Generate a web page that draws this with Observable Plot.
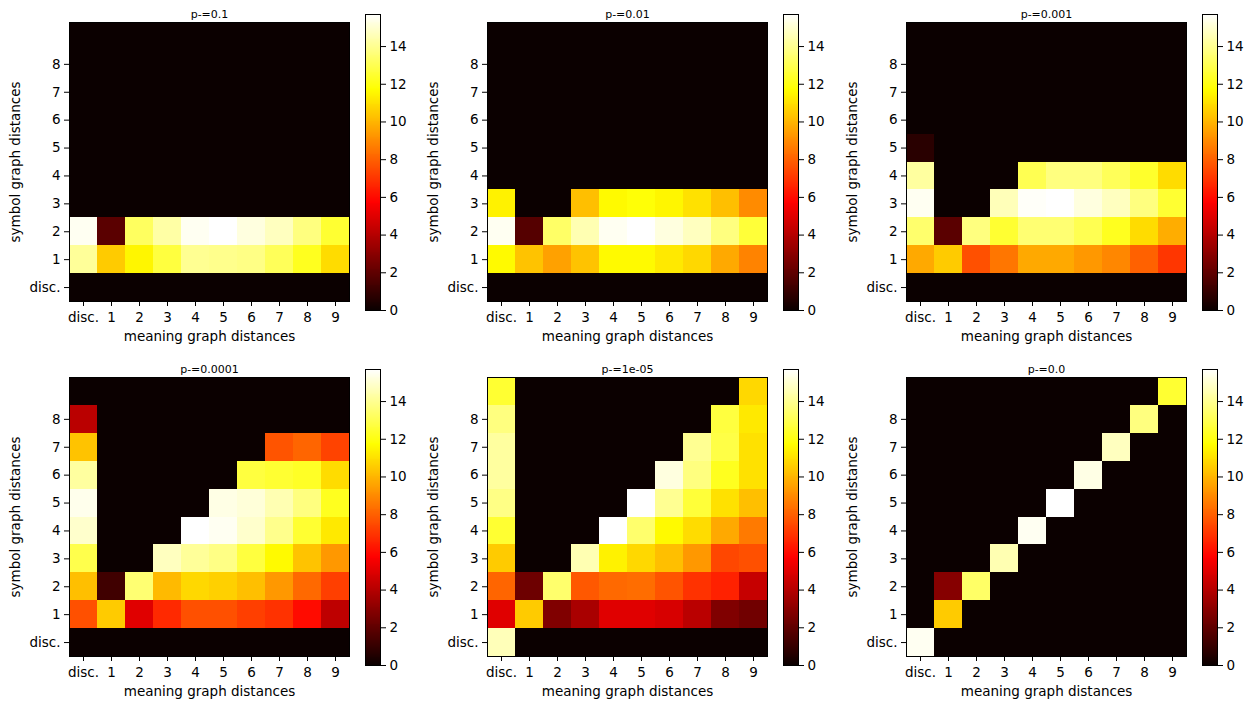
<!DOCTYPE html>
<html>
<head>
<meta charset="utf-8">
<script src="https://cdn.jsdelivr.net/npm/d3@7"></script>
<script src="https://cdn.jsdelivr.net/npm/@observablehq/plot@0.6"></script>
<style>
  html, body { margin: 0; padding: 0; background: #fff; }
  #fig { position: relative; width: 1252px; height: 709px; overflow: hidden; font-family: "DejaVu Sans", sans-serif; }
  #fig svg { position: absolute; overflow: visible; }
</style>
</head>
<body>
<div id="fig"></div>
<script>
// ---- data ----
const xLabels = ["disc.", "1", "2", "3", "4", "5", "6", "7", "8", "9"];
const yLabels = ["disc.", "1", "2", "3", "4", "5", "6", "7", "8", "9"]; // bottom to top
const yTickLabels = ["disc.", "1", "2", "3", "4", "5", "6", "7", "8"];
const titles = ["p-=0.1", "p-=0.01", "p-=0.001", "p-=0.0001", "p-=1e-05", "p-=0.0"];
const colorbarTicks = [0, 2, 4, 6, 8, 10, 12, 14];
const vmax = 15.7;
const xTitle = "meaning graph distances";
const yTitle = "symbol graph distances";

// rows: symbol distance disc., 1 .. 9 (bottom to top); columns: meaning distance disc., 1 .. 9
const p1 = [
  [0, 0, 0, 0, 0, 0, 0, 0, 0, 0],
  [14.1, 10.5, 11.5, 12.7, 14.0, 13.9, 13.8, 13.1, 12.2, 10.9],
  [15.5, 1.85, 13.2, 14.3, 15.5, 15.7, 15.2, 14.7, 13.7, 12.5],
  [0, 0, 0, 0, 0, 0, 0, 0, 0, 0],
  [0, 0, 0, 0, 0, 0, 0, 0, 0, 0],
  [0, 0, 0, 0, 0, 0, 0, 0, 0, 0],
  [0, 0, 0, 0, 0, 0, 0, 0, 0, 0],
  [0, 0, 0, 0, 0, 0, 0, 0, 0, 0],
  [0, 0, 0, 0, 0, 0, 0, 0, 0, 0],
  [0, 0, 0, 0, 0, 0, 0, 0, 0, 0]
];
const p2 = [
  [0, 0, 0, 0, 0, 0, 0, 0, 0, 0],
  [11.6, 10.3, 9.5, 10.3, 11.6, 11.6, 11.2, 10.8, 9.7, 8.8],
  [15.5, 1.75, 13.3, 14.5, 15.5, 15.7, 15.2, 14.7, 13.7, 12.6],
  [11.4, 0, 0, 10.2, 11.6, 11.8, 11.5, 11.0, 10.2, 9.0],
  [0, 0, 0, 0, 0, 0, 0, 0, 0, 0],
  [0, 0, 0, 0, 0, 0, 0, 0, 0, 0],
  [0, 0, 0, 0, 0, 0, 0, 0, 0, 0],
  [0, 0, 0, 0, 0, 0, 0, 0, 0, 0],
  [0, 0, 0, 0, 0, 0, 0, 0, 0, 0],
  [0, 0, 0, 0, 0, 0, 0, 0, 0, 0]
];
const p3 = [
  [0, 0, 0, 0, 0, 0, 0, 0, 0, 0],
  [9.7, 10.5, 7.6, 8.5, 9.7, 9.7, 9.3, 8.9, 8.0, 7.0],
  [13.4, 1.85, 13.7, 12.5, 13.5, 13.5, 13.0, 12.2, 10.9, 9.8],
  [15.5, 0, 0, 14.6, 15.6, 15.7, 15.2, 14.7, 13.7, 12.5],
  [14.2, 0, 0, 0, 13.0, 13.7, 13.7, 13.1, 12.4, 10.9],
  [0.7, 0, 0, 0, 0, 0, 0, 0, 0, 0],
  [0, 0, 0, 0, 0, 0, 0, 0, 0, 0],
  [0, 0, 0, 0, 0, 0, 0, 0, 0, 0],
  [0, 0, 0, 0, 0, 0, 0, 0, 0, 0],
  [0, 0, 0, 0, 0, 0, 0, 0, 0, 0]
];
const p4 = [
  [0, 0, 0, 0, 0, 0, 0, 0, 0, 0],
  [7.6, 10.5, 5.0, 6.7, 7.6, 7.6, 7.2, 6.9, 6.0, 4.2],
  [10.2, 1.25, 13.5, 10.1, 10.8, 10.6, 10.2, 9.3, 8.2, 7.2],
  [12.9, 0, 0, 14.7, 14.1, 13.8, 12.7, 11.6, 10.3, 9.3],
  [14.9, 0, 0, 0, 15.7, 15.5, 14.9, 13.9, 12.5, 11.2],
  [15.4, 0, 0, 0, 0, 15.3, 15.1, 14.5, 13.7, 12.2],
  [14.2, 0, 0, 0, 0, 0, 12.7, 12.5, 12.3, 10.9],
  [10.3, 0, 0, 0, 0, 0, 0, 7.7, 8.1, 7.3],
  [4.1, 0, 0, 0, 0, 0, 0, 0, 0, 0],
  [0, 0, 0, 0, 0, 0, 0, 0, 0, 0]
];
const p5 = [
  [14.6, 0, 0, 0, 0, 0, 0, 0, 0, 0],
  [5.0, 10.5, 2.75, 3.7, 5.0, 5.0, 4.8, 4.1, 2.75, 2.4],
  [8.1, 2.3, 13.4, 7.8, 8.2, 8.3, 7.7, 6.9, 6.5, 4.4],
  [10.5, 0, 0, 14.5, 11.4, 10.8, 10.2, 9.3, 7.4, 7.6],
  [12.5, 0, 0, 0, 15.7, 13.4, 11.6, 10.9, 9.7, 8.6],
  [13.8, 0, 0, 0, 0, 15.7, 14.0, 12.6, 11.0, 10.2],
  [14.2, 0, 0, 0, 0, 0, 15.2, 13.7, 12.2, 11.0],
  [14.2, 0, 0, 0, 0, 0, 0, 14.0, 12.8, 11.0],
  [13.7, 0, 0, 0, 0, 0, 0, 0, 12.7, 11.2],
  [12.5, 0, 0, 0, 0, 0, 0, 0, 0, 10.8]
];
const p6 = [
  [15.5, 0, 0, 0, 0, 0, 0, 0, 0, 0],
  [0, 10.5, 0, 0, 0, 0, 0, 0, 0, 0],
  [0, 2.9, 13.3, 0, 0, 0, 0, 0, 0, 0],
  [0, 0, 0, 14.5, 0, 0, 0, 0, 0, 0],
  [0, 0, 0, 0, 15.5, 0, 0, 0, 0, 0],
  [0, 0, 0, 0, 0, 15.7, 0, 0, 0, 0],
  [0, 0, 0, 0, 0, 0, 15.3, 0, 0, 0],
  [0, 0, 0, 0, 0, 0, 0, 14.7, 0, 0],
  [0, 0, 0, 0, 0, 0, 0, 0, 13.7, 0],
  [0, 0, 0, 0, 0, 0, 0, 0, 0, 12.5]
];
const panels = [p1, p2, p3, p4, p5, p6];

// ---- matplotlib "hot" colormap as a piecewise linear Plot color scale ----
const colorScale = {
  type: "linear",
  domain: [0, 0.365079 * vmax, 0.746032 * vmax, vmax],
  range: ["#0b0000", "#ff0000", "#ffff00", "#ffffff"],
  interpolate: "rgb",
  clamp: true
};

const fig = document.getElementById("fig");
const FONT = "DejaVu Sans";

function heatmap(matrix, title) {
  const cells = [];
  matrix.forEach((row, r) => row.forEach((v, c) => cells.push({x: xLabels[c], y: yLabels[r], v})));
  return Plot.plot({
    width: 69 + 280 + 6,
    height: 22 + 279 + 55,
    marginLeft: 69, marginRight: 6, marginTop: 22, marginBottom: 55,
    style: {fontFamily: FONT, fontSize: "13.5px", color: "#000", background: "transparent"},
    x: {domain: xLabels, padding: 0, round: false},
    y: {domain: yLabels.slice().reverse(), padding: 0, round: false},
    color: colorScale,
    marks: [
      Plot.cell(cells, {x: "x", y: "y", fill: "v", shapeRendering: "crispEdges"}),
      Plot.frame({stroke: "#000", strokeWidth: 1}),
      Plot.axisX({anchor: "bottom", tickSize: 5, tickPadding: 6, label: null}),
      Plot.axisY({anchor: "left", ticks: yTickLabels, tickSize: 5, tickPadding: 4, label: null}),
      Plot.text([title], {text: d => d, frameAnchor: "top", dy: -12, fontSize: 11}),
      Plot.text([xTitle], {text: d => d, frameAnchor: "bottom", dy: 39}),
      Plot.text([yTitle], {text: d => d, frameAnchor: "left", textAnchor: "middle", dx: -54, rotate: -90})
    ]
  });
}

function colorbar() {
  const step = 0.05;
  const levels = d3.range(0, vmax, step);
  return Plot.plot({
    width: 15 + 40,
    height: 14 + 296 + 12,
    marginLeft: 0, marginRight: 40, marginTop: 14, marginBottom: 12,
    style: {fontFamily: FONT, fontSize: "13.5px", color: "#000", background: "transparent"},
    x: {domain: [0, 1], axis: null},
    y: {domain: [0, vmax]},
    color: colorScale,
    marks: [
      Plot.rect(levels, {x1: 0, x2: 1, y1: d => d, y2: d => Math.min(vmax, d + step * 1.5), fill: d => d + step / 2, shapeRendering: "crispEdges"}),
      Plot.frame({stroke: "#000", strokeWidth: 1}),
      Plot.axisY({anchor: "right", ticks: colorbarTicks, tickSize: 5, tickPadding: 4, label: null})
    ]
  });
}

const colLeft = [0, 418, 837];
const rowTop = [0, 355];
panels.forEach((m, i) => {
  const col = i % 3, row = Math.floor(i / 3);
  const h = heatmap(m, titles[i]);
  h.style.left = colLeft[col] + "px";
  h.style.top = rowTop[row] + "px";
  fig.appendChild(h);
  const cb = colorbar();
  cb.style.left = (colLeft[col] + 365) + "px";
  cb.style.top = rowTop[row] + "px";
  fig.appendChild(cb);
});
</script>
</body>
</html>
